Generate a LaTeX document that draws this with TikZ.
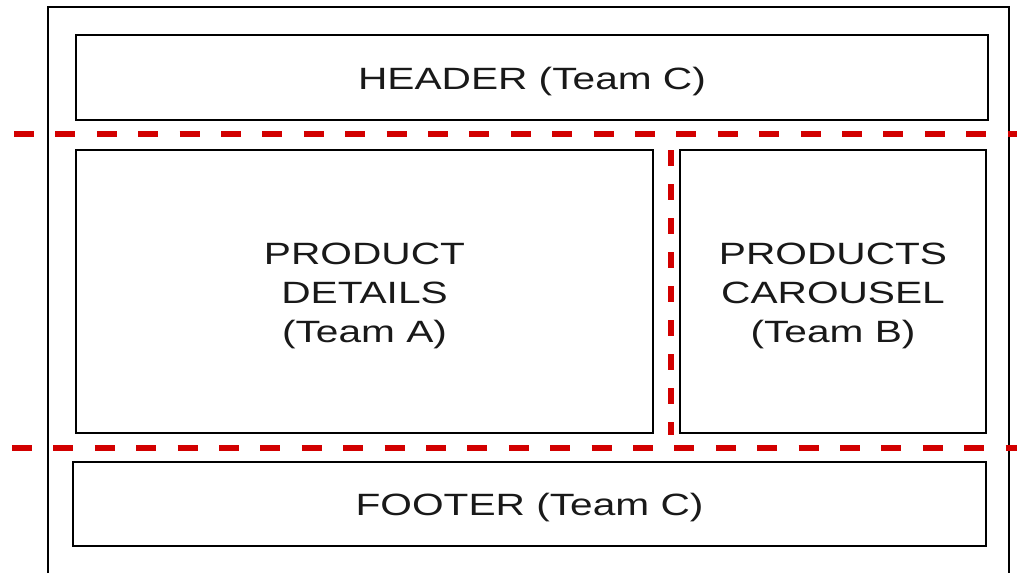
\documentclass[tikz,border=0pt]{standalone}
\usepackage{fontspec}
\newfontfamily\boxfont[FakeStretch=1.32]{Liberation Sans}
\definecolor{cutred}{RGB}{210,0,0}
\tikzset{panel/.style={draw,line width=1.4pt,inner sep=0pt},
paneltext/.style={align=center,yshift=-2pt,text=black!90,font=\boxfont\fontsize{15.4}{19.5}\selectfont},
cut/.style={cutred,line width=2.6pt,dash pattern=on 10pt off 10.7pt}}
\begin{document}
\begin{tikzpicture}[x=0.5pt,y=-0.5pt]
\useasboundingbox(0,0)rectangle(1017,573);
\draw[line width=1.4pt](48,573)--(48,7)--(1009,7)--(1009,573);
\node[panel,minimum width=456pt,minimum height=42.5pt,label={[paneltext]center:HEADER (Team C)}](header)at(532,77.5){};
\node[panel,minimum width=288.5pt,minimum height=141.5pt,label={[paneltext]center:PRODUCT\\DETAILS\\(Team A)}](details)at(364.5,291.5){};
\node[panel,minimum width=153pt,minimum height=141.5pt,label={[paneltext]center:PRODUCTS\\CAROUSEL\\(Team B)}](carousel)at(833,291.5){};
\node[panel,minimum width=456.5pt,minimum height=42pt,label={[paneltext]center:FOOTER (Team C)}](footer)at(529.5,504){};
\coordinate(cutT)at(14,134);\coordinate(cutB)at(12,448);
\draw[cut](cutT)--(1017,134);\draw[cut](cutB)--(1017,448);
\draw[cut,line width=3pt,dash pattern=on 8pt off 9pt](671,150)--(671,435);
\end{tikzpicture}
\end{document}
